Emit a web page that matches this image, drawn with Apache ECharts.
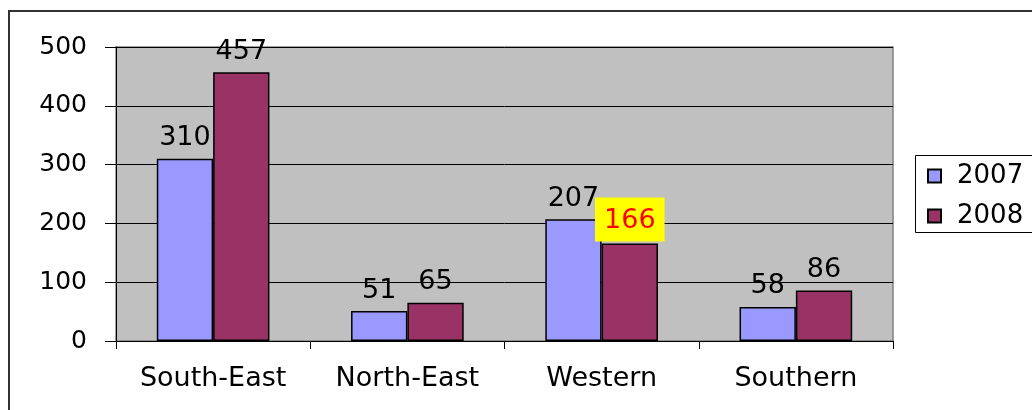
<!DOCTYPE html>
<html>
<head>
<meta charset="utf-8">
<script src="https://cdn.jsdelivr.net/npm/echarts@6/dist/echarts.min.js"></script>
<style>
html,body{margin:0;padding:0;background:#fff;}
#chart{width:1032px;height:410px;}
</style>
</head>
<body>
<div id="chart"></div>
<script>
const categories = ['South-East', 'North-East', 'Western', 'Southern'];
const seriesNames = ['2007', '2008'];
const values2007 = [310, 51, 207, 58];
const values2008 = [457, 65, 166, 86];
const yTicks = [0, 100, 200, 300, 400, 500];
const highlightIndex = 2; // Western 2008 label highlighted

const FONT = 'DejaVu Sans';
const chart = echarts.init(document.getElementById('chart'), null, {renderer: 'canvas'});

const data2008 = values2008.map((v, i) => i === highlightIndex ? {
  value: v,
  label: {
    backgroundColor: '#FFFF00',
    color: '#FF0000',
    padding: [10, 9, 7, 9],
    distance: 2
  }
} : v);

const option = {
  animation: false,
  backgroundColor: '#ffffff',
  textStyle: {fontFamily: FONT},
  grid: {
    left: 116, top: 47, right: 139, bottom: 69,
    show: true,
    backgroundColor: '#C0C0C0',
    borderColor: '#808080',
    borderWidth: 1.5,
    containLabel: false
  },
  legend: {
    orient: 'vertical',
    left: 927,
    top: 163,
    padding: 0,
    itemWidth: 13,
    itemHeight: 13,
    itemGap: 14,
    icon: 'rect',
    textStyle: {fontFamily: FONT, fontSize: 26, color: '#000', padding: [0, 0, 0, 11]},
    data: seriesNames
  },
  xAxis: {
    type: 'category',
    data: categories,
    boundaryGap: true,
    axisLine: {show: true, lineStyle: {color: '#000', width: 1}},
    axisTick: {show: true, length: 8, alignWithLabel: false, lineStyle: {color: '#000'}},
    axisLabel: {fontFamily: FONT, fontSize: 27, color: '#000', margin: 24}
  },
  yAxis: {
    type: 'value',
    min: yTicks[0],
    max: yTicks[yTicks.length - 1],
    interval: 100,
    axisLine: {show: true, lineStyle: {color: '#000', width: 1}},
    axisTick: {show: true, length: 11, lineStyle: {color: '#000'}},
    axisLabel: {fontFamily: FONT, fontSize: 25, color: '#000', margin: 29},
    splitLine: {show: true, lineStyle: {color: '#000', width: 1}}
  },
  series: [
    {
      name: seriesNames[0],
      type: 'bar',
      data: values2007,
      barGap: '0%',
      barCategoryGap: '42%',
      itemStyle: {color: '#9999FF', borderColor: '#000', borderWidth: 1.5},
      label: {show: true, position: 'top', distance: 7, fontFamily: FONT, fontSize: 27, color: '#000'}
    },
    {
      name: seriesNames[1],
      type: 'bar',
      data: data2008,
      barGap: '0%',
      barCategoryGap: '42%',
      itemStyle: {color: '#993366', borderColor: '#000', borderWidth: 1.5},
      label: {show: true, position: 'top', distance: 7, fontFamily: FONT, fontSize: 27, color: '#000'}
    }
  ],
  graphic: [
    {
      type: 'rect',
      shape: {x: 9, y: 11, width: 1200, height: 600},
      style: {fill: null, stroke: '#333', lineWidth: 2},
      silent: true
    },
    {
      type: 'rect',
      shape: {x: 915.5, y: 155.5, width: 300, height: 77},
      style: {fill: null, stroke: '#000', lineWidth: 1},
      silent: true
    }
  ]
};
chart.setOption(option);
</script>
</body>
</html>
